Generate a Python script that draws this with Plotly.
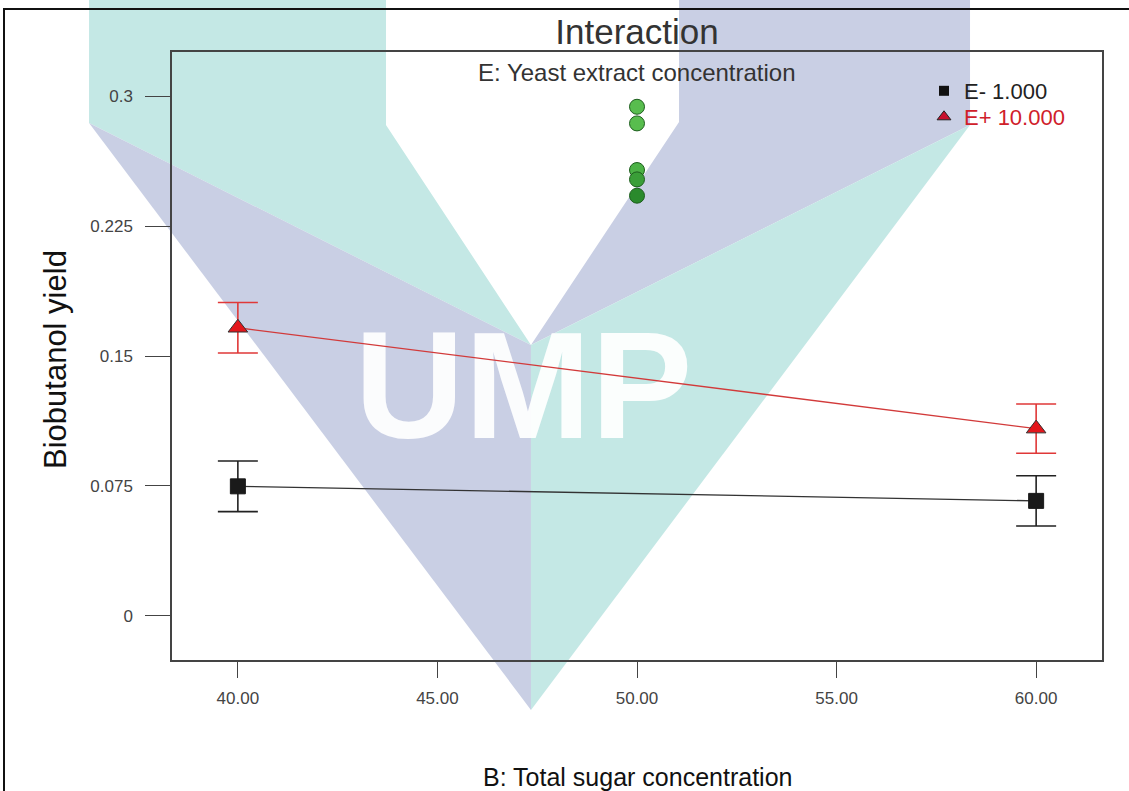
import plotly.graph_objects as go

# ---------------- data ----------------
sugar = [40.0, 60.0]                      # B: Total sugar concentration
e_minus = [0.0748, 0.0664]                # E- 1.000
e_minus_err = [0.0146, 0.0145]
e_plus = [0.1663, 0.1081]                 # E+ 10.000
e_plus_err = [0.0146, 0.0142]
center_x = [50.0, 50.0, 50.0, 50.0, 50.0] # design points (centre)
center_y = [0.2938, 0.2842, 0.2573, 0.2519, 0.2425]
x_ticks = [40, 45, 50, 55, 60]
x_ticktext = ["40.00", "45.00", "50.00", "55.00", "60.00"]
y_ticks = [0, 0.075, 0.15, 0.225, 0.3]
y_ticktext = ["0", "0.075", "0.15", "0.225", "0.3"]

# ---------------- layout geometry ----------------
W, H = 1129, 791
L, R, T, B = 172, 27, 52, 131
XR = [38.35, 61.65]
YR = [-0.0254, 0.3254]
PW, PH = W - L - R, H - T - B
FONT = "Liberation Sans, Arial, sans-serif"


def P(px, py):
    """pixel -> paper coordinates"""
    return (px - L) / PW, (H - B - py) / PH


def path(points):
    pts = [P(x, y) for x, y in points]
    return "M " + " L ".join(f"{x:.4f},{y:.4f}" for x, y in pts) + " Z"


TEAL = "#c4e8e5"
PURPLE = "#c9cfe4"
C = (531, 345)
shapes = [
    dict(type="path", xref="paper", yref="paper", layer="below", line_width=0,
         fillcolor=TEAL, path=path([(89, 0), (386, 0), (386, 125), C, (89, 123)])),
    dict(type="path", xref="paper", yref="paper", layer="below", line_width=0,
         fillcolor=PURPLE, path=path([(89, 123), C, (531, 710)])),
    dict(type="path", xref="paper", yref="paper", layer="below", line_width=0,
         fillcolor=PURPLE, path=path([(679, 0), (970, 0), (970, 125), C, (679, 122)])),
    dict(type="path", xref="paper", yref="paper", layer="below", line_width=0,
         fillcolor=TEAL, path=path([(970, 125), C, (531, 710)])),
]
# outer frame
fx0, fy0 = P(4, 9)
fx1, fy1 = P(1140, 800)
shapes.append(dict(type="rect", xref="paper", yref="paper", layer="above",
                   x0=fx0, y0=fy1, x1=fx1, y1=fy0,
                   line=dict(color="#111", width=2), fillcolor="rgba(0,0,0,0)"))

fig = go.Figure()

# watermark text (drawn first so that data sit on top)
ux = XR[0] + (523.5 - L) / PW * (XR[1] - XR[0])
uy = YR[0] + (H - B - 400) / PH * (YR[1] - YR[0])
fig.add_trace(go.Scatter(
    x=[ux], y=[uy], mode="text", text=["UMP"], textposition="middle center",
    textfont=dict(family=FONT, size=152, color="rgba(255,255,255,0.93)", weight="bold"),
    hoverinfo="skip", showlegend=False))

# design points
fig.add_trace(go.Scatter(
    x=center_x, y=center_y, mode="markers", showlegend=False,
    marker=dict(symbol="circle", size=15,
                color=["#58bd4e", "#58bd4e", "#4cb246", "#3a9e38", "#2a8a2c"],
                line=dict(color="#1d5e1d", width=1))))

# E- line
fig.add_trace(go.Scatter(
    x=sugar, y=e_minus, mode="lines+markers", showlegend=False,
    line=dict(color="#333333", width=1.3),
    marker=dict(symbol="square", size=15, color="#1a1a1a", line=dict(color="#1a1a1a", width=1)),
    error_y=dict(type="data", array=e_minus_err, visible=True, color="#222222",
                 thickness=1.6, width=20)))

# E+ line
fig.add_trace(go.Scatter(
    x=sugar, y=e_plus, mode="lines+markers", showlegend=False,
    line=dict(color="#d23a3a", width=1.3),
    marker=dict(symbol="triangle-up", size=17, color="#e3161c", line=dict(color="#333333", width=1)),
    error_y=dict(type="data", array=e_plus_err, visible=True, color="#e03838",
                 thickness=1.6, width=20)))

# legend entries (one legend per row for exact spacing)
fig.add_trace(go.Scatter(
    x=[None], y=[None], mode="markers", name="E- 1.000", legend="legend",
    marker=dict(symbol="square", size=10, color="#111111")))
fig.add_trace(go.Scatter(
    x=[None], y=[None], mode="markers", legend="legend2",
    name="<span style='color:#d0202a'>E+ 10.000</span>",
    marker=dict(symbol="triangle-up", size=12, color="#c8102e", line=dict(color="#222", width=1))))

leg_common = dict(x=P(924, 0)[0], xanchor="left", yanchor="top",
                  bgcolor="rgba(0,0,0,0)", font=dict(size=22, color="#222", family=FONT))

fig.update_layout(
    width=W, height=H,
    margin=dict(l=L, r=R, t=T, b=B),
    paper_bgcolor="white", plot_bgcolor="rgba(0,0,0,0)",
    font=dict(family=FONT, color="#333"),
    shapes=shapes,
    title=dict(text="Interaction", x=0.5, xref="paper", xanchor="center",
               y=1 - 32 / H, yref="container", yanchor="middle",
               font=dict(size=35, color="#333", family=FONT)),
    legend=dict(y=P(0, 70)[1], **leg_common),
    legend2=dict(y=P(0, 96)[1], **leg_common),
    annotations=[
        dict(text="E: Yeast extract concentration", xref="paper", yref="paper",
             x=0.5, y=P(0, 72)[1], xanchor="center", yanchor="middle", showarrow=False,
             font=dict(size=24, color="#333", family=FONT)),
        dict(text="Biobutanol yield", xref="paper", yref="paper",
             x=P(55, 0)[0], y=P(0, 360)[1], xanchor="center", yanchor="middle",
             textangle=-90, showarrow=False,
             font=dict(size=31, color="#111", family=FONT)),
        dict(text="B: Total sugar concentration", xref="paper", yref="paper",
             x=0.5, y=P(0, 777)[1], xanchor="center", yanchor="middle", showarrow=False,
             font=dict(size=25, color="#111", family=FONT)),
    ],
)

fig.update_xaxes(range=XR, tickvals=x_ticks, ticktext=x_ticktext,
                 showgrid=False, zeroline=False, showline=True, mirror=True,
                 linecolor="#444", linewidth=1.5, ticks="outside", ticklen=16,
                 tickwidth=1.3, tickcolor="#444", ticklabelstandoff=6,
                 tickfont=dict(size=17, color="#444", family=FONT))
fig.update_yaxes(range=YR, tickvals=y_ticks, ticktext=y_ticktext,
                 showgrid=False, zeroline=False, showline=True, mirror=True,
                 linecolor="#444", linewidth=1.5, ticks="outside", ticklen=25,
                 tickwidth=1.3, tickcolor="#444", ticklabelstandoff=9,
                 tickfont=dict(size=17, color="#444", family=FONT))

fig.write_html("out.html")
